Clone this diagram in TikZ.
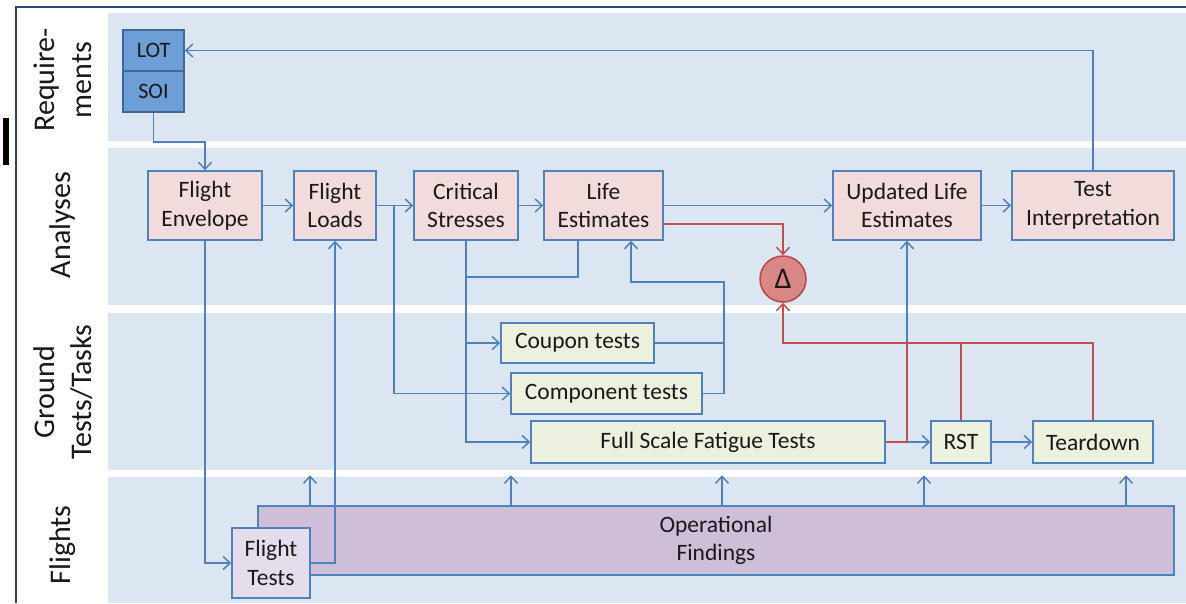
\documentclass[tikz,border=0pt]{standalone}
\usepackage{fontspec}
\setmainfont{Carlito}
\usetikzlibrary{arrows.meta,calc}
\definecolor{band}{RGB}{220,230,242}
\definecolor{cblue}{RGB}{79,129,189}
\definecolor{cred}{RGB}{192,80,77}
\definecolor{frame}{RGB}{40,70,130}
\definecolor{anafill}{RGB}{242,220,219}
\definecolor{grofill}{RGB}{235,241,222}
\definecolor{reqfill}{RGB}{110,158,214}
\definecolor{ftfill}{RGB}{230,221,236}
\definecolor{opffill}{RGB}{206,190,216}
\definecolor{deltafill}{RGB}{217,135,133}
\definecolor{deltaline}{RGB}{180,70,70}
\definecolor{txt}{RGB}{25,25,25}
\begin{document}
\begin{tikzpicture}[x=1pt,y=-1pt,
  box/.style={draw=cblue, line width=1.5pt, inner sep=0pt, align=center, text=txt,
    font=\fontsize{23.5}{28.5}\selectfont},
  anabox/.style={box, fill=anafill, minimum height=69pt},
  grobox/.style={box, fill=grofill, minimum height=41pt},
  reqbox/.style={box, fill=reqfill, draw=cblue!80!black, minimum width=61pt, minimum height=41pt, font=\fontsize{22}{26}\selectfont},
  lane/.style={rotate=90, align=center, text=txt, font=\fontsize{30}{37}\selectfont},
  band/.style={fill=band, draw=none},
  arr/.style={draw=cblue, line width=1.5pt, -{Straight Barb[length=7pt,width=13pt]}},
  conn/.style={draw=cblue, line width=1.5pt},
  rarr/.style={draw=cred, line width=1.5pt, -{Straight Barb[length=7pt,width=13pt]}},
  rconn/.style={draw=cred, line width=1.5pt}]
\useasboundingbox (0,0) rectangle (1186,603);
\fill[white] (0,0) rectangle (1186,603);
% bands
\path[band] (108,13) rectangle (1186,141);
\path[band] (108,148) rectangle (1186,305);
\path[band] (108,313) rectangle (1186,470);
\path[band] (108,477) rectangle (1186,603);
% frame
\draw[frame, line width=2pt] (16,603) -- (16,7) -- (1186,7);
\fill[black] (3,118) rectangle (9,165);
% lane labels
\node[lane] (lreq) at (63,80) {Require-\\ments};
\node[lane] (lana) at (63,225) {Analyses};
\node[lane] (lgro) at (63,392) {Ground\\Tests/Tasks};
\node[lane] (lfli) at (63,545) {Flights};
% nodes
\node[reqbox] (lot) at (153.5,50.5) {LOT};
\node[reqbox] (soi) at (153.5,91.5) {SOI};
\node[anabox, minimum width=114pt] (fe) at (205,205.5) {Flight\\Envelope};
\node[anabox, minimum width=82pt] (fl) at (335,205.5) {Flight\\Loads};
\node[anabox, minimum width=104pt] (cs) at (466,205.5) {Critical\\Stresses};
\node[anabox, minimum width=119pt] (le) at (603.5,205.5) {Life\\Estimates};
\node[anabox, minimum width=148pt] (ule) at (907,205.5) {Updated Life\\Estimates};
\node[anabox, minimum width=162pt] (ti) at (1093,205.5) {Test\\Interpretation};
\node[circle, draw=deltaline, fill=deltafill, line width=1.5pt, minimum size=46pt, inner sep=0pt,
  text=txt, font=\fontsize{30}{32}\selectfont] (delta) at (783,279) {Δ};
\node[grobox, minimum width=153pt, minimum height=40pt] (coupon) at (577.5,343) {Coupon tests};
\node[grobox, minimum width=191pt] (comp) at (606.5,393.5) {Component tests};
\node[grobox, minimum width=354pt, minimum height=42pt] (fsft) at (708,442) {Full Scale Fatigue Tests};
\node[grobox, minimum width=60pt, minimum height=42pt] (rst) at (961,442) {RST};
\node[grobox, minimum width=120pt, minimum height=42pt] (tear) at (1093,442) {Teardown};
\node[box, fill=opffill, minimum width=916pt, minimum height=69pt] (opf) at (716,540.5) {Operational\\Findings};
\node[box, fill=ftfill, minimum width=78pt, minimum height=70pt] (ft) at (271,563) {Flight\\Tests};
% blue connectors
\draw[arr] (soi.south) -- ++(0,29) -| (fe.north);
\draw[arr] (fe.east) -- (fl.west);
\draw[arr] (fl.east) -- (cs.west);
\draw[arr] (cs.east) -- (le.west);
\draw[arr] (le.east) -- (ule.west);
\draw[arr] (ule.east) -- (ti.west);
\draw[arr] (ti.north) |- (lot.east);
\draw[arr] (fe.south) |- (ft.west);
\draw[arr] (ft.east) -| (fl.south);
\coordinate (b1) at ($(fl.east)+(17,0)$);
\draw[arr] (b1) |- (comp.west);
\draw[arr] (cs.south) |- (fsft.west);
\draw[arr] (cs.south |- coupon.west) -- (coupon.west);
\coordinate (c1) at ($(cs.south)+(0,36)$);
\draw[conn] ([xshift=-25.5pt]le.south) |- (c1);
\coordinate (j) at (724,282);
\draw[conn] (coupon.east) -- (coupon.east -| j);
\draw[arr] (comp.east) -| (j) -| ([xshift=27.5pt]le.south);
\draw[arr] (fsft.east) -- (rst.west);
\draw[arr] (rst.east) -- (tear.west);
\draw[arr] (ule.south |- fsft.east) -- (ule.south);
\foreach \xx in {310,511,722,924,1126}
  \draw[arr] (opf.north -| \xx,0) -- ++(0,-30);
% red connectors
\draw[rarr] ($(le.east)+(0,18.5)$) -| (delta.north);
\draw[rconn] (fsft.east) -| (ule.south |- coupon.east);
\draw[rconn] (rst.north) -- (rst.north |- coupon.east);
\draw[rarr] (tear.north) |- (delta.south |- coupon.east) -- (delta.south);
\end{tikzpicture}
\end{document}
